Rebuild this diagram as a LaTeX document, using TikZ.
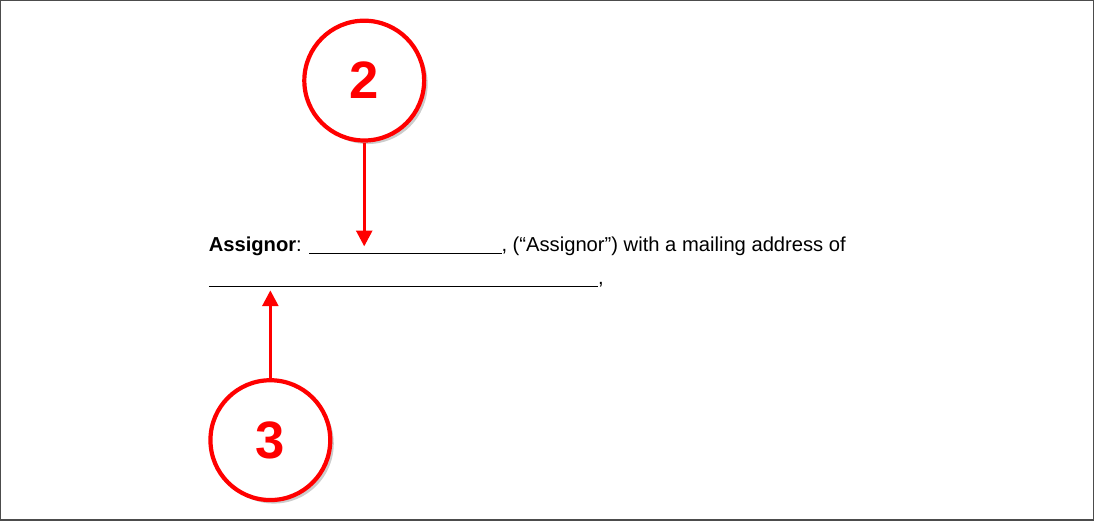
\documentclass[tikz,border=0pt]{standalone}
\usepackage{fontspec}
\setmainfont{Liberation Sans}
\usetikzlibrary{positioning, shadows, arrows.meta}
\tikzset{
	callout/.style={
		circle,
		draw=red,
		line width=2.4pt,
		fill=white,
		minimum size=2.4cm,
		font=\fontsize{30}{32}\selectfont\bfseries,
		text=red,
		drop shadow={opacity=0.4, shadow xshift=2pt, shadow yshift=-2pt}
	},
	pointer/.style={
		draw=red,
		line width=1.8pt,
		-{Triangle[length=9pt, width=9pt]}
	},
	formtext/.style={
		font=\fontsize{11.5}{13}\selectfont,
		inner sep=0pt,
		anchor=base west
	}
}
\begin{document}
\begin{tikzpicture}[x=0.02cm, y=-0.02cm]
		\draw [line width=0.8pt, black!70] (0,0) rectangle (1094,520);
		
		\node [formtext] (line1) at (208,251) {\textbf{Assignor}: \underline{\hspace{3.85cm}}, (“Assignor”) with a mailing address of};
		\node [formtext] (line2) at (208,284) {\underline{\hspace{7.8cm}},};
		
		\node [callout] (two) at (364,80) {2};
		\node [callout] (three) at (270,440) {3};
		
		\coordinate (tip2) at (364,246);
		\coordinate (tip3) at (270,290);
		\draw [pointer] (two) -- (tip2);
		\draw [pointer] (three) -- (tip3);
\end{tikzpicture}
\end{document}
